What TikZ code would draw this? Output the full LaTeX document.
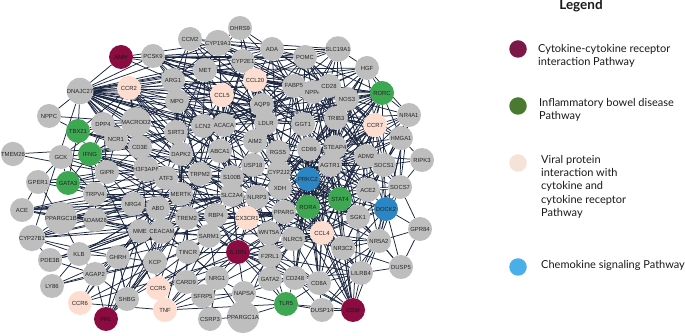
\documentclass[tikz,border=0pt]{standalone}
\usepackage{fontspec}
\setmainfont{Lato}
\newfontfamily\nodefont{Liberation Sans}
\pgfdeclarelayer{bg}
\pgfsetlayers{bg,main}
\definecolor{gnode}{HTML}{BEBEBE}
\definecolor{mnode}{HTML}{8C0B40}
\definecolor{grnode}{HTML}{3EA752}
\definecolor{pnode}{HTML}{FCDDD0}
\definecolor{bnode}{HTML}{2C86C3}
\definecolor{edgec}{HTML}{1A2540}
\definecolor{txtc}{HTML}{262626}
\definecolor{lmar}{HTML}{7B1848}
\definecolor{lgrn}{HTML}{4A7A30}
\definecolor{lpch}{HTML}{F5E3D8}
\definecolor{lblu}{HTML}{4AAEE8}
\newcommand\links[2]{\foreach \b in {#2}{\draw[edge] (#1) -- (\b);}}
\begin{document}
\begin{tikzpicture}[x=1pt,y=-1pt,
  gene/.style={circle,fill=gnode,minimum size=24pt,inner sep=0pt,text=txtc,
    font=\nodefont\fontsize{5.9}{6.5}\selectfont},
  mar/.style={gene,fill=mnode,text=black!90},
  grn/.style={gene,fill=grnode},
  pch/.style={gene,fill=pnode},
  blu/.style={gene,fill=bnode},
  edge/.style={draw=edgec,line width=0.75pt},
  legdot/.style={circle,minimum size=17.5pt,inner sep=0pt},
  legtxt/.style={anchor=north west,inner sep=0pt,align=left,text=black!90,
    font=\fontsize{11}{13.3}\selectfont}]
\useasboundingbox (0,0) rectangle (685,336);

% ---- nodes ----
\node[mar] (AMH) at (121,57) {AMH};
\node[gene] (PCSK9) at (153,56) {PCSK9};
\node[gene] (CCM2) at (190,39) {CCM2};
\node[gene] (CYP19A1) at (218,43) {CYP19A1};
\node[gene] (DHRS9) at (240,28) {DHRS9};
\node[gene] (ADA) at (272,49) {ADA};
\node[gene] (SLC19A1) at (338,49) {SLC19A1};
\node[gene] (POMC) at (305,57) {POMC};
\node[gene] (CYP2E1) at (243,61) {CYP2E1};
\node[gene] (MET) at (205,70) {MET};
\node[gene] (HGF) at (367,68) {HGF};
\node[gene] (DNAJC27) at (80,91) {DNAJC27};
\node[pch] (CCR2) at (129,88) {CCR2};
\node[gene] (ARG1) at (173,80) {ARG1};
\node[pch] (CCL20) at (255,80) {CCL20};
\node[gene] (FABP5) at (294,86) {FABP5};
\node[gene] (NPPA) at (313,92) {NPPA};
\node[gene] (CD28) at (329,86) {CD28};
\node[gene] (NOS3) at (347,99) {NOS3};
\node[grn] (RORC) at (382,93) {RORC};
\node[gene] (NR4A1) at (409,115) {NR4A1};
\node[gene] (NPPC) at (49,116) {NPPC};
\node[gene] (MACROD2) at (136,122) {MACROD2};
\node[gene] (MPO) at (177,101) {MPO};
\node[pch] (CCL5) at (222,95) {CCL5};
\node[gene] (AQP9) at (262,105) {AQP9};
\node[gene] (LDLR) at (266,123) {LDLR};
\node[gene] (GGT1) at (303,124) {GGT1};
\node[gene] (TRIB3) at (336,118) {TRIB3};
\node[pch] (CCR7) at (375,125) {CCR7};
\node[gene] (HMGA1) at (401,138) {HMGA1};
\node[grn] (TBX21) at (78,131) {TBX21};
\node[gene] (DPP4) at (103,124) {DPP4};
\node[gene] (NCR1) at (116,139) {NCR1};
\node[gene] (SIRT3) at (176,132) {SIRT3};
\node[gene] (LCN2) at (203,126) {LCN2};
\node[gene] (ACACA) at (224,125) {ACACA};
\node[gene] (AIM2) at (255,141) {AIM2};
\node[gene] (CD86) at (309,149) {CD86};
\node[gene] (STEAP4) at (335,147) {STEAP4};
\node[gene] (RIPK3) at (422,160) {RIPK3};
\node[gene] (TMEM26) at (13,154) {TMEM26};
\node[gene] (GCK) at (61,157) {GCK};
\node[grn] (IFNG) at (90,154) {IFNG};
\node[gene] (CD3E) at (140,147) {CD3E};
\node[gene] (DAPK2) at (181,154) {DAPK2};
\node[gene] (ABCA1) at (220,151) {ABCA1};
\node[gene] (RGS5) at (278,152) {RGS5};
\node[gene] (AGTR1) at (330,165) {AGTR1};
\node[gene] (ADM2) at (366,156) {ADM2};
\node[gene] (SOCS1) at (384,165) {SOCS1};
\node[gene] (GPER1) at (38,182) {GPER1};
\node[gene] (GIPR) at (107,172) {GIPR};
\node[gene] (H3F3AP6) at (146,169) {H3F3AP6};
\node[gene] (ATF3) at (166,178) {ATF3};
\node[gene] (TRPM2) at (200,174) {TRPM2};
\node[gene] (USP18) at (253,165) {USP18};
\node[gene] (CYP2J2) at (279,172) {CYP2J2};
\node[blu] (PRKCZ) at (308,179) {PRKCZ};
\node[gene] (ACE2) at (368,190) {ACE2};
\node[gene] (SOCS7) at (400,187) {SOCS7};
\node[grn] (GATA3) at (68,183) {GATA3};
\node[gene] (TRPV4) at (95,194) {TRPV4};
\node[gene] (MERTK) at (181,194) {MERTK};
\node[gene] (S100B) at (232,177) {S100B};
\node[gene] (XDH) at (280,188) {XDH};
\node[grn] (STAT4) at (340,199) {STAT4};
\node[blu] (DOCK2) at (386,209) {DOCK2};
\node[gene] (ACE) at (22,210) {ACE};
\node[gene] (PPARGC1B) at (61,218) {PPARGC1B};
\node[gene] (ADAM28) at (95,220) {ADAM28};
\node[gene] (NRG4) at (133,204) {NRG4};
\node[gene] (ABO) at (158,208) {ABO};
\node[gene] (SLC2A4) at (232,195) {SLC2A4};
\node[gene] (NLRP3) at (257,197) {NLRP3};
\node[grn] (RORA) at (308,207) {RORA};
\node[gene] (SGK1) at (358,217) {SGK1};
\node[gene] (GPR84) at (420,229) {GPR84};
\node[gene] (CYP27B1) at (32,238) {CYP27B1};
\node[gene] (MME) at (140,231) {MME};
\node[gene] (CEACAM) at (162,231) {CEACAM};
\node[gene] (TREM2) at (187,218) {TREM2};
\node[gene] (RBP4) at (216,215) {RBP4};
\node[pch] (CX3CR1) at (247,218) {CX3CR1};
\node[gene] (PPARG) at (284,212) {PPARG};
\node[gene] (SARM1) at (209,236) {SARM1};
\node[gene] (WNT5A) at (269,233) {WNT5A};
\node[pch] (CCL4) at (322,233) {CCL4};
\node[gene] (NR3C2) at (343,248) {NR3C2};
\node[gene] (NR5A2) at (379,241) {NR5A2};
\node[gene] (KLB) at (79,254) {KLB};
\node[gene] (PDE3B) at (50,260) {PDE3B};
\node[gene] (GHRH) at (118,257) {GHRH};
\node[gene] (KCP) at (155,262) {KCP};
\node[gene] (TINCR) at (188,252) {TINCR};
\node[mar] (IL1RN) at (238,252) {IL1RN};
\node[gene] (NLRC5) at (293,239) {NLRC5};
\node[gene] (F2RL1) at (270,256) {F2RL1};
\node[gene] (LILRB4) at (361,273) {LILRB4};
\node[gene] (DUSP5) at (401,267) {DUSP5};
\node[gene] (AGAP2) at (95,274) {AGAP2};
\node[gene] (LY86) at (52,286) {LY86};
\node[pch] (CCR5) at (158,288) {CCR5};
\node[gene] (CARD9) at (186,282) {CARD9};
\node[gene] (NRG1) at (217,278) {NRG1};
\node[gene] (GATA2) at (270,279) {GATA2};
\node[gene] (CD248) at (295,278) {CD248};
\node[gene] (CD8A) at (319,283) {CD8A};
\node[gene] (SHBG) at (127,299) {SHBG};
\node[pch] (CCR6) at (80,303) {CCR6};
\node[pch] (TNF) at (165,310) {TNF};
\node[gene] (SFRP5) at (203,296) {SFRP5};
\node[gene] (NAPSA) at (244,293) {NAPSA};
\node[grn] (TLR5) at (286,304) {TLR5};
\node[gene] (DUSP14) at (322,310) {DUSP14};
\node[mar] (OSM) at (353,310) {OSM};
\node[mar] (PRL) at (106,319) {PRL};
\node[gene] (CSRP3) at (210,319) {CSRP3};
\node[gene] (PPARGC1A) at (243,317) {PPARGC1A};

% ---- edges ----
\begin{pgfonlayer}{bg}
\links{DNAJC27}{AMH,NPPC,DPP4,NCR1,TBX21,CYP27B1,PCSK9,CCR2,ARG1,MET,MPO,CCL5,MACROD2,SIRT3,CD3E,DAPK2,LCN2,ACACA,ABCA1,CCL20,CYP2E1,AQP9,H3F3AP6,ATF3,TRPM2,AIM2,LDLR,FABP5,POMC,ADA,CYP19A1,GGT1,CD86,RGS5,USP18,S100B}
\links{AMH}{CYP19A1,POMC,MET,ARG1}
\links{PCSK9}{ARG1,MET,CYP2E1,LDLR,ADA,ABCA1,ACACA,POMC,FABP5,CCL5,AQP9,GGT1,NPPA}
\links{CCM2}{MET,CYP19A1,ARG1,MPO,CYP2E1,GGT1,LDLR,SLC19A1}
\links{CYP19A1}{DHRS9,CYP2E1,MET,ARG1,CCL5,FABP5,NPPA,POMC,CD28,ACACA,LDLR,ADA}
\links{DHRS9}{CYP2E1,CCL20,AQP9,FABP5,ADA,MET}
\links{ADA}{CYP2E1,POMC,SLC19A1,FABP5,CD28,NOS3,CCL20,GGT1,AIM2,XDH}
\links{SLC19A1}{POMC,CD28,NOS3,HGF,FABP5,NPPA,TRIB3,CCL20,GGT1,CYP2E1}
\links{POMC}{CD28,NPPA,FABP5,NOS3,RORC,TRIB3,GGT1,CCR7,AGTR1,LDLR,AQP9,CCL20,ADM2}
\links{CYP2E1}{MET,CCL20,CCL5,AQP9,FABP5,LDLR,GGT1,ACACA,ABCA1,XDH,CYP2J2,AIM2}
\links{MET}{ARG1,CCL5,MPO,CCL20,SIRT3,LCN2,HGF,FABP5,CD28,NOS3,ABCA1,ACACA,AQP9,DAPK2}
\links{HGF}{RORC,CD28,NOS3,FABP5,NPPA,TRIB3,CCR7,NR4A1,CCL20,STEAP4,AGTR1,GGT1,CD86}
\links{CCR2}{CCL5,ARG1,MPO,SIRT3,CD3E,CCL20,CCR7,CCL4,CX3CR1,IFNG,TBX21,MACROD2,CCR5,LCN2,IL1RN,DAPK2}
\links{ARG1}{MPO,CCL5,SIRT3,LCN2,ACACA,ABCA1,NOS3,DAPK2,TRPM2,AQP9,LDLR}
\links{CCL20}{CCL5,AQP9,LDLR,FABP5,NPPA,CD28,CCR7,GGT1,AIM2,RGS5,CD86,CCR6,CCL4}
\links{FABP5}{NPPA,CD28,AQP9,LDLR,GGT1,TRIB3,CD86,RGS5,PPARG,ACACA,ABCA1,RORA}
\links{NPPA}{CD28,NOS3,TRIB3,GGT1,AGTR1,STEAP4,CD86,CYP2J2,ADM2,AQP9,LDLR}
\links{CD28}{NOS3,TRIB3,RORC,CCR7,CD86,STEAP4,GGT1,AGTR1,STAT4,PRKCZ,CD8A,IFNG,CD3E}
\links{NOS3}{RORC,TRIB3,CCR7,HMGA1,AGTR1,STEAP4,ADM2,SOCS1,GGT1,XDH,PRKCZ,ACE2}
\links{RORC}{NR4A1,CCR7,TRIB3,HMGA1,ADM2,SOCS1,STEAP4,AGTR1,STAT4,RORA,CD86,GGT1,LDLR,CD28,FABP5,NPPA,CYP2J2,PRKCZ,IFNG}
\links{NR4A1}{HMGA1,CCR7,SOCS1,ADM2,SOCS7,DOCK2,TRIB3,NOS3,SGK1,NR3C2,STEAP4,AGTR1,NR5A2}
\links{NPPC}{TBX21,MACROD2}
\links{MACROD2}{CD3E,DPP4,NCR1,SIRT3,MPO,DAPK2,H3F3AP6}
\links{MPO}{CCL5,SIRT3,LCN2,DAPK2,ABCA1,ACACA,TRPM2,MERTK,S100B,AQP9,LDLR}
\links{CCL5}{AQP9,LDLR,ACACA,LCN2,CCR7,CCL4,CX3CR1,CCR5,AIM2,IL1RN,TNF,CD86,STAT4,NLRP3}
\links{AQP9}{LDLR,AIM2,GGT1,RGS5,USP18,ACACA,ABCA1,XDH}
\links{LDLR}{AIM2,GGT1,RGS5,ABCA1,ACACA,CYP2J2,USP18,CD86,PPARG,TRIB3}
\links{GGT1}{TRIB3,CD86,RGS5,STEAP4,AGTR1,CYP2J2,XDH,PRKCZ,AIM2,STAT4,RORA,ACE2}
\links{TRIB3}{CCR7,STEAP4,AGTR1,CD86,ADM2,SOCS1,PRKCZ,STAT4,HMGA1,RORA,XDH,SGK1}
\links{CCR7}{HMGA1,ADM2,SOCS1,STEAP4,AGTR1,CCL4,CX3CR1,STAT4,CD86,ACE2,DOCK2,SOCS7,PRKCZ,RORA}
\links{HMGA1}{SOCS1,ADM2,RIPK3,SOCS7,ACE2,STEAP4,AGTR1}
\links{TBX21}{IFNG,GATA3,DPP4,NCR1,CD3E,STAT4,RORC,RORA}
\links{DPP4}{NCR1,CD3E,IFNG,GIPR}
\links{NCR1}{CD3E,IFNG,GIPR,H3F3AP6,SIRT3}
\links{SIRT3}{LCN2,DAPK2,CD3E,ABCA1,ACACA,TRPM2,ATF3,H3F3AP6,MERTK}
\links{LCN2}{ACACA,DAPK2,ABCA1,TRPM2,AIM2,S100B,USP18}
\links{ACACA}{ABCA1,AIM2,DAPK2,USP18,S100B,TRPM2,SLC2A4}
\links{AIM2}{USP18,RGS5,ABCA1,S100B,CYP2J2,NLRP3,XDH,CD86}
\links{CD86}{STEAP4,RGS5,AGTR1,CYP2J2,PRKCZ,XDH,STAT4,RORA,CX3CR1,CD8A,CD248,ADM2,SOCS1,ACE2,SGK1,CCL4}
\links{STEAP4}{AGTR1,ADM2,SOCS1,PRKCZ,STAT4,ACE2,CYP2J2,XDH,RORA,SGK1,PPARG}
\links{RIPK3}{SOCS1,SOCS7,ADM2}
\links{TMEM26}{GIPR,CD3E}
\links{GCK}{GIPR,IFNG,GATA3,TRPV4,DPP4,H3F3AP6}
\links{IFNG}{GATA3,GIPR,CD3E,NCR1,H3F3AP6,STAT4,IL1RN,CX3CR1,TNF,CCL4,SOCS1,CD8A,TRPV4,ATF3}
\links{CD3E}{DAPK2,H3F3AP6,SIRT3,ATF3,GIPR,CD8A,TRPM2}
\links{DAPK2}{ABCA1,ATF3,TRPM2,H3F3AP6,MERTK,S100B,SLC2A4,TREM2}
\links{ABCA1}{TRPM2,S100B,USP18,SLC2A4,PPARG,NLRP3,RBP4}
\links{RGS5}{CYP2J2,USP18,XDH,PRKCZ,AGTR1,NLRP3,PPARG,SLC2A4,STAT4,RORA,ACE2}
\links{AGTR1}{ADM2,SOCS1,PRKCZ,STAT4,ACE2,SGK1,RORA,CYP2J2,XDH,PPARG,CCL4,NR3C2,SOCS7}
\links{ADM2}{SOCS1,ACE2,SOCS7,SGK1,STAT4,PRKCZ,RORA,DOCK2}
\links{SOCS1}{SOCS7,ACE2,DOCK2,STAT4,SGK1,NR5A2,PRKCZ,RORA}
\links{GPER1}{GATA3,GCK,TRPV4,GIPR,PPARGC1B}
\links{GIPR}{H3F3AP6,TRPV4,ATF3,NRG4,GATA3}
\links{H3F3AP6}{ATF3,TRPM2,MERTK,NRG4,ABO}
\links{ATF3}{TRPM2,MERTK,ABO,NRG4,TREM2,S100B,SLC2A4}
\links{TRPM2}{S100B,MERTK,SLC2A4,TREM2,RBP4,USP18,NLRP3}
\links{USP18}{S100B,CYP2J2,NLRP3,XDH,SLC2A4,CX3CR1}
\links{CYP2J2}{XDH,PRKCZ,NLRP3,PPARG,RORA,STAT4,AGTR1,SGK1}
\links{PRKCZ}{XDH,RORA,STAT4,PPARG,SGK1,ACE2,CCL4,NLRC5,WNT5A,DOCK2,NR3C2,F2RL1,NR5A2,CD8A,CD248}
\links{ACE2}{SGK1,STAT4,DOCK2,NR5A2,RORA,CCL4}
\links{SOCS7}{DOCK2,SGK1,NR5A2,GPR84}
\links{GATA3}{TRPV4,H3F3AP6,ATF3,MERTK,NRG4,ABO}
\links{TRPV4}{NRG4,ADAM28,ABO,ATF3,MERTK,H3F3AP6}
\links{MERTK}{S100B,SLC2A4,TREM2,RBP4,ABO,NRG4,SARM1,CEACAM}
\links{S100B}{SLC2A4,NLRP3,RBP4,CX3CR1,XDH}
\links{XDH}{NLRP3,PPARG,RORA,STAT4,WNT5A,SGK1,CCL4}
\links{STAT4}{RORA,SGK1,ACE2,DOCK2,CCL4,NR3C2,CD8A,IL1RN,NLRC5,PPARG,NR5A2,CX3CR1,CD248}
\links{DOCK2}{SGK1,NR5A2,GPR84,CCL4,CX3CR1,LILRB4,DUSP5,CD8A}
\links{ACE}{PPARGC1B,GPER1,ADAM28,NRG4,ABO,MERTK,CEACAM,TRPV4,AGTR1,ACE2}
\links{PPARGC1B}{ADAM28,NRG4,ABO,MME,PPARG,KLB,ATF3,SLC2A4}
\links{ADAM28}{NRG4,MME,ABO,CEACAM}
\links{NRG4}{ABO,MME,CEACAM,NRG1}
\links{ABO}{CEACAM,MME,TREM2,SLC2A4,RBP4}
\links{SLC2A4}{NLRP3,RBP4,CX3CR1,PPARG,SARM1,TREM2,IL1RN}
\links{NLRP3}{CX3CR1,PPARG,WNT5A,IL1RN,RORA,NLRC5,F2RL1}
\links{RORA}{PPARG,SGK1,CCL4,NLRC5,WNT5A,NR3C2,CD8A,GATA2,CD248,NR5A2,LILRB4}
\links{SGK1}{NR5A2,NR3C2,CCL4,LILRB4,DUSP5,OSM,NLRC5}
\links{GPR84}{NR5A2,DUSP5}
\links{CYP27B1}{PPARGC1B,KLB,MME,GHRH,ABO,ATF3,PDE3B,NRG4,SLC2A4,PPARG}
\links{MME}{CEACAM,KCP,GHRH,TREM2,SARM1,TINCR}
\links{CEACAM}{TREM2,SARM1,KCP,TINCR,RBP4}
\links{TREM2}{RBP4,SARM1,TINCR,CX3CR1,IL1RN,CARD9}
\links{RBP4}{CX3CR1,SARM1,IL1RN,PPARG,NLRP3}
\links{CX3CR1}{PPARG,WNT5A,IL1RN,CCL4,F2RL1,CCR5,TNF,CCR6}
\links{PPARG}{WNT5A,NLRC5,CCL4,NR3C2,F2RL1,GATA2}
\links{SARM1}{TINCR,IL1RN,NRG1,CARD9,WNT5A}
\links{WNT5A}{NLRC5,CCL4,F2RL1,IL1RN,GATA2,SFRP5}
\links{CCL4}{NLRC5,NR3C2,NR5A2,CD8A,CCR5,TNF,CCR6,IL1RN,LILRB4}
\links{NR3C2}{NR5A2,LILRB4,CD8A,NLRC5}
\links{NR5A2}{LILRB4,DUSP5,CD8A,NLRC5,DUSP14}
\links{KLB}{PDE3B,AGAP2,GHRH,MME,ABO,MERTK,SLC2A4,PPARG}
\links{PDE3B}{AGAP2,MME,PPARG,SLC2A4}
\links{GHRH}{AGAP2,MME,KCP,SHBG,PRL,TREM2,SARM1,CEACAM}
\links{KCP}{CEACAM,TINCR,CARD9,MERTK,ABO}
\links{TINCR}{IL1RN,CARD9,NRG1,SARM1}
\links{IL1RN}{F2RL1,NLRC5,NRG1,NAPSA,GATA2,CD248,TNF,CCR5,TLR5,CD8A,OSM,LILRB4}
\links{NLRC5}{F2RL1,GATA2,CD248,CD8A,LILRB4}
\links{F2RL1}{GATA2,CD248,NAPSA,TLR5}
\links{LILRB4}{DUSP5,CD8A,OSM,CD248,DUSP14}
\links{DUSP5}{NR3C2}
\links{AGAP2}{LY86,CCR6,SHBG,KCP,MERTK}
\links{LY86}{KLB,KCP,GHRH}
\links{CCR5}{TNF,CARD9}
\links{CARD9}{NRG1,SFRP5,TNF}
\links{NRG1}{SFRP5,NAPSA,CSRP3}
\links{GATA2}{CD248,NAPSA,TLR5,CD8A}
\links{CD248}{CD8A,TLR5,NAPSA,DUSP14}
\links{CD8A}{DUSP14,TLR5,OSM}
\links{SHBG}{PRL,MME,GHRH,CEACAM,KCP,TREM2,SARM1,PPARG}
\links{CCR6}{MME}
\links{TNF}{CCR6,TLR5,NAPSA}
\links{SFRP5}{CSRP3,NAPSA}
\links{NAPSA}{PPARGC1A,TLR5}
\links{TLR5}{PPARGC1A,DUSP14,OSM}
\links{DUSP14}{OSM}
\links{OSM}{NR3C2,NR5A2,CCL4,STAT4,PRKCZ,RORA,CD248,AGTR1,CD86,XDH}
\links{PRL}{GHRH,MME,KCP,CEACAM,TREM2,AGAP2}
\links{CSRP3}{NRG1}
\links{PPARGC1A}{PPARG,NRG1,CSRP3}
\draw[edge,double=white,double distance=1.2pt] (ACE2) -- (SOCS7);
\end{pgfonlayer}

% ---- legend ----
\node[anchor=base,font=\bfseries\fontsize{13.5}{15}\selectfont,text=black!90] (legtitle) at (581,10) {Legend};
\node[legdot,fill=lmar] (ldot1) at (518,49) {};
\node[legdot,fill=lgrn] (ldot2) at (518,106) {};
\node[legdot,fill=lpch] (ldot3) at (518,163) {};
\node[legdot,fill=lblu] (ldot4) at (518,267) {};
\node[legtxt] (ltxt1) at (538,44) {Cytokine-cytokine receptor\\interaction Pathway};
\node[legtxt] (ltxt2) at (539,98) {Inflammatory bowel disease\\Pathway};
\node[legtxt] (ltxt3) at (541,155) {Viral protein\\interaction with\\cytokine and\\cytokine receptor\\Pathway};
\node[legtxt] (ltxt4) at (541,260) {Chemokine signaling Pathway};
\end{tikzpicture}
\end{document}
